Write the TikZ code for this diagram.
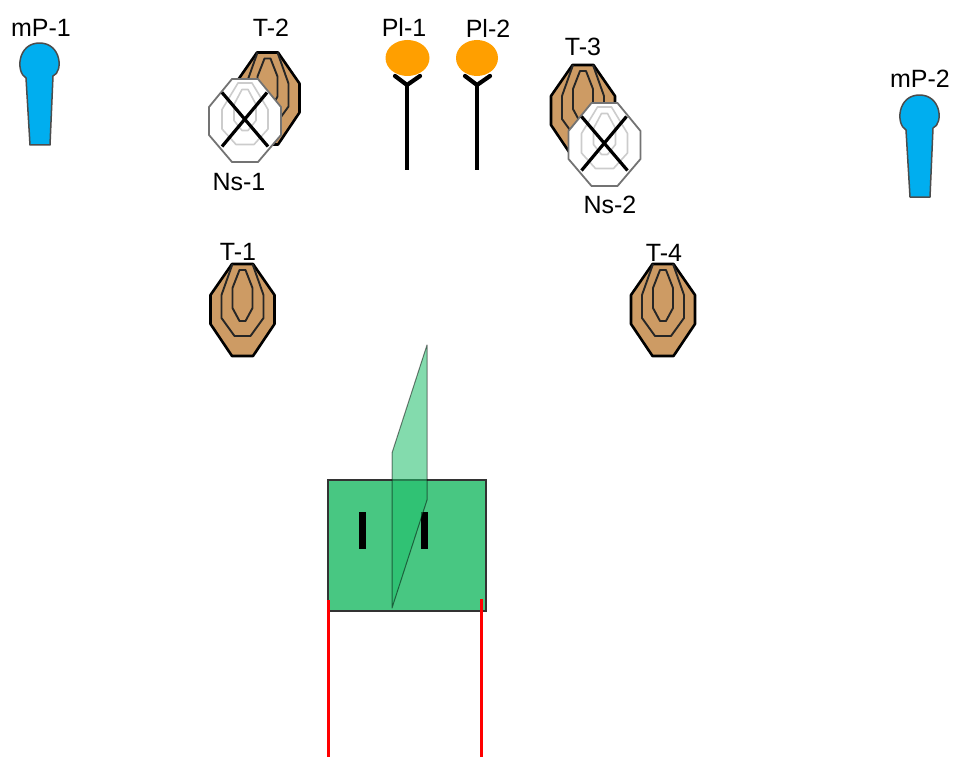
\documentclass[tikz,border=0pt]{standalone}
\usepackage{fontspec}
\usetikzlibrary{shapes.geometric}
\setmainfont{Liberation Sans}
\definecolor{tbrown}{RGB}{205,155,100}
\definecolor{mblue}{RGB}{0,174,239}
\definecolor{plorange}{RGB}{255,159,0}
\definecolor{vgreen}{RGB}{72,199,130}
\definecolor{pgreen}{RGB}{30,190,105}
\tikzset{
  lab/.style={inner sep=0pt,font=\fontsize{25}{28}\selectfont,text=black},
  plate/.style={ellipse,fill=plorange,minimum height=36pt,inner sep=0pt},
  targetpic/.pic={
    \draw[fill=tbrown,draw=black,line width=2.6pt,line join=round]
      (-10.5,-46)--(10.5,-46)--(32,-15)--(32,14)--(10.5,46)--(-10.5,46)--(-32,14)--(-32,-15)--cycle;
    \draw[black!85,line width=1.9pt,line join=round]
      (-10,-46)--(-21,-15)--(-21,8)--(-8,26)--(8,26)--(21,8)--(21,-15)--(10,-46);
    \draw[black!85,line width=1.9pt,line join=round]
      (-3,-40)--(3,-40)--(10,-22)--(10,-2)--(3,11)--(-3,11)--(-10,-2)--(-10,-22)--cycle;
  },
  noshootpic/.pic={
    \draw[fill=white,draw=black!55,line width=1.8pt,line join=round]
      (-13,-41.5)--(13,-41.5)--(36,-13.5)--(36,14.5)--(13,41.5)--(-13,41.5)--(-36,14.5)--(-36,-13.5)--cycle;
    \draw[black!20,line width=1.6pt,line join=round]
      (-7,-37.5)--(7,-37.5)--(23,-11)--(23,8.5)--(9,24)--(-9,24)--(-23,8.5)--(-23,-11)--cycle;
    \draw[black!20,line width=1.6pt,line join=round]
      (-3,-31)--(3,-31)--(11,-16)--(11,0)--(3,10)--(-3,10)--(-11,0)--(-11,-16)--cycle;
    \draw[black,line width=3.2pt] (-23,-28)--(23,26);
    \draw[black,line width=3.2pt] (22,-28)--(-23,26);
  },
  polepic/.pic={
    \draw[black,line width=4.2pt] (0,27)--(0,112);
    \draw[black,line width=4.2pt,line join=miter,line cap=round] (-12,18)--(0,27)--(13,18);
  },
  minipic/.pic={
    \draw[fill=mblue,draw=black!70,line width=1.5pt,line join=round]
      (-13.5,17) .. controls (-24,11) and (-22,-18) .. (0,-18)
      .. controls (22,-18) and (24,11) .. (13.5,15)
      -- (10.5,84) -- (-9.5,84) -- cycle;
  }
}
\begin{document}
\begin{tikzpicture}[x=1pt,y=-1pt]
\useasboundingbox (0,0) rectangle (953,757);
% mini poppers
\path (39.5,61) pic {minipic};
\path (919.5,113) pic {minipic};
% targets
\path (242.5,310) pic {targetpic};
\path (267.5,98.5) pic {targetpic};
\path (583,111) pic {targetpic};
\path (663,310) pic {targetpic};
% no-shoots
\path (245,120.5) pic {noshootpic};
\path (604.5,144.5) pic {noshootpic};
% poppers
\path (407,58) pic {polepic};
\path (477,58) pic {polepic};
\node[plate,minimum width=44pt] (pa) at (407.5,58) {};
\node[plate,minimum width=42pt] (pb) at (477,58) {};
% vehicle
\fill[vgreen] (328,480) rectangle (486,611);
\draw[black!80,line width=1.6pt] (328,480) rectangle (486,611);
\fill[black] (359,512) rectangle (366,549);
\fill[black] (421,512) rectangle (428,549);
\draw[fill=pgreen,fill opacity=0.55,draw=black,draw opacity=0.5,line width=1pt,line join=round]
  (427,345)--(427,500)--(392,608)--(392,453)--cycle;
% fault lines
\draw[red,line width=3pt] (328.5,600)--(328.5,757);
\draw[red,line width=3pt] (481,599)--(481,757);
% labels
\node[lab] (l1) at (41,28) {mP-1};
\node[lab] (l2) at (920,79) {mP-2};
\node[lab] (l3) at (271,28) {T-2};
\node[lab] (l4) at (239,182) {Ns-1};
\node[lab] (l5) at (404,27) {Pl-1};
\node[lab] (l6) at (488,28) {Pl-2};
\node[lab] (l7) at (583,47) {T-3};
\node[lab] (l8) at (610,205) {Ns-2};
\node[lab] (l9) at (238,252) {T-1};
\node[lab] (l10) at (664,253) {T-4};
\end{tikzpicture}
\end{document}
